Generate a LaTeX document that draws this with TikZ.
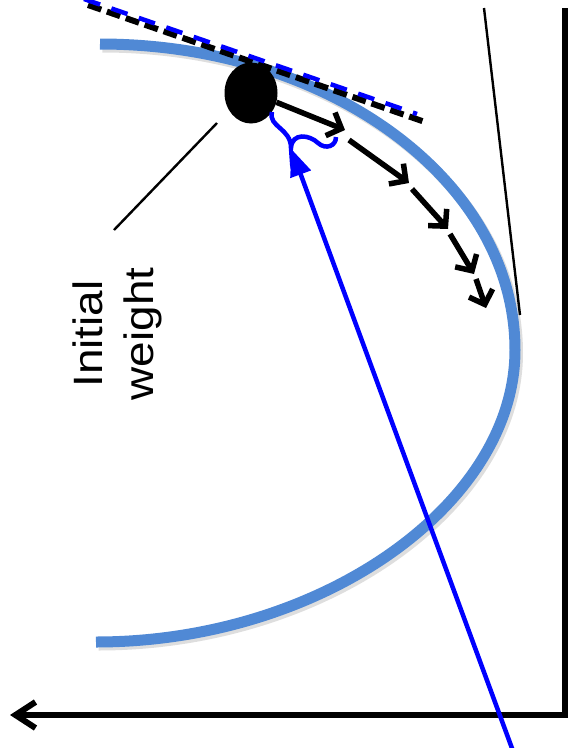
\documentclass[tikz,border=0pt]{standalone}
\usepackage{fontspec}
\setmainfont{Liberation Sans}
\usetikzlibrary{arrows.meta,shapes.geometric}
\definecolor{curvaAzul}{HTML}{5089D5}
\definecolor{azulPuro}{HTML}{0000FF}

\begin{document}
\begin{tikzpicture}[x=1pt,y=-1pt,
    curva/.style={curvaAzul,line width=11pt},
    sombra/.style={black!13,line width=11pt,transform canvas={shift={(2.5pt,-3pt)}}},
    paso/.style={line width=5.5pt,-{Straight Barb[length=12pt,width=25pt]}},
    eje/.style={line width=6pt,line join=miter},
    tangente/.style={line width=6pt,dash pattern=on 14pt off 6pt}]
  \useasboundingbox (0,0) rectangle (568,748);
  % the cost curve
  \draw[sombra] (100,44) .. controls (329,44) and (515,181) .. (515,350)
    .. controls (515,505) and (320,642) .. (96,642);
  \draw[curva] (100,44) .. controls (329,44) and (515,181) .. (515,350)
    .. controls (515,505) and (320,642) .. (96,642);
  % axes
  \coordinate (ejeTop) at (565,8);
  \coordinate (origen) at (565,715);
  \coordinate (ejeFin) at (10,715);
  \draw[eje,-{Straight Barb[length=20pt,width=26pt]}] (ejeTop) -- (origen) -- (ejeFin);
  % tangent at the minimum
  \coordinate (vA) at (484,8);
  \coordinate (vB) at (520,315);
  \draw[line width=2.4pt] (vA) -- (vB);
  % initial weight and the gradient steps
  \node[ellipse,fill=black,minimum width=53pt,minimum height=61pt,inner sep=0pt]
    (w0) at (251,93) {};
  \coordinate (g1) at (345,130);
  \coordinate (g2) at (349,140);
  \coordinate (g3) at (409,183);
  \coordinate (g4) at (412,189);
  \coordinate (g5) at (448,229);
  \coordinate (g6) at (450,234);
  \coordinate (g7) at (474,274);
  \coordinate (g8) at (476,279);
  \coordinate (g9) at (486,308);
  \draw[paso] (w0.-20) -- (g1);
  \foreach \a/\b in {g2/g3,g4/g5,g6/g7,g8/g9}
    \draw[paso] (\a) -- (\b);
  % tangent at the initial weight
  \coordinate (tA) at (88,5);
  \coordinate (tB) at (425,122);
  \coordinate (bA) at (84,-1);
  \coordinate (bB) at (417,114);
  \draw[tangente] (tA) -- (tB);
  \draw[azulPuro,line width=4.5pt,dash pattern=on 17pt off 12pt] (bA) -- (bB);
  % slope brace and the blue arrow
  \coordinate (cusp) at (291,148);
  \draw[azulPuro,line width=4.5pt] (w0.-42) .. controls (268,127) and (291,128) .. (cusp)
    .. controls (292,132) and (310,135) .. (318,143)
    .. controls (326,150) and (336,146) .. (336,137);
  \coordinate (bInicio) at (513,751);
  \draw[azulPuro,line width=4.5pt,-{Triangle[length=27pt,width=21pt]},shorten >=1pt]
    (bInicio) -- (cusp);
  % label
  \node[rotate=90,xscale=1.12,align=center,font=\fontsize{41}{51}\selectfont]
    (etiqueta) at (117,334) {Initial\\weight};
  \coordinate (pA) at (217,123);
  \coordinate (pB) at (114,230);
  \draw[line width=2.4pt] (pA) -- (pB);
\end{tikzpicture}
\end{document}
